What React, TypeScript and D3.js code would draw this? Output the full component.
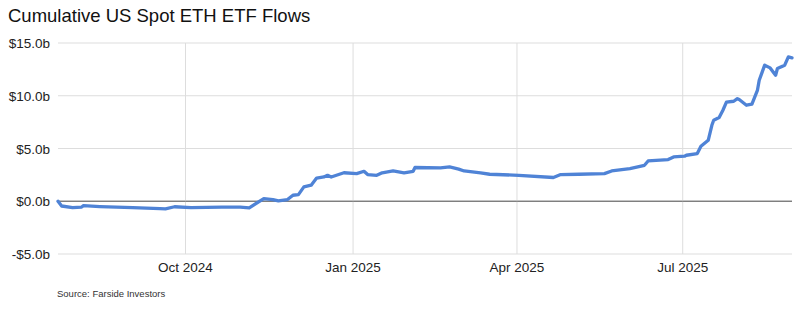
import React from "react";
import * as d3 from "d3";

const title = "Cumulative US Spot ETH ETF Flows";
const source = "Source: Farside Investors";

const dates: string[] = [
  "2024-07-23","2024-07-25","2024-07-31","2024-08-05","2024-08-06","2024-08-15","2024-09-02","2024-09-17","2024-09-20","2024-09-25",
  "2024-10-04","2024-10-21","2024-10-31","2024-11-05","2024-11-13","2024-11-18","2024-11-21","2024-11-26","2024-11-29","2024-12-02",
  "2024-12-05","2024-12-09","2024-12-12","2024-12-16","2024-12-18","2024-12-20","2024-12-27","2025-01-03","2025-01-07","2025-01-09",
  "2025-01-14","2025-01-17","2025-01-23","2025-01-29","2025-02-03","2025-02-04","2025-02-18","2025-02-23","2025-02-28","2025-03-03",
  "2025-03-12","2025-03-17","2025-04-02","2025-04-21","2025-04-25","2025-05-05","2025-05-19","2025-05-23","2025-06-02","2025-06-10",
  "2025-06-12","2025-06-23","2025-06-26","2025-07-02","2025-07-03","2025-07-09","2025-07-11","2025-07-15","2025-07-17","2025-07-18",
  "2025-07-21","2025-07-23","2025-07-25","2025-07-29","2025-07-31","2025-08-01","2025-08-05","2025-08-08","2025-08-11","2025-08-12",
  "2025-08-15","2025-08-18","2025-08-21","2025-08-22","2025-08-26","2025-08-28","2025-08-30"
];

const flows: number[] = [
  0.0,-0.45,-0.6,-0.55,-0.42,-0.5,-0.6,-0.7,-0.72,-0.52,
  -0.6,-0.55,-0.55,-0.62,0.25,0.16,0.03,0.16,0.57,0.63,
  1.36,1.52,2.2,2.3,2.46,2.3,2.7,2.62,2.84,2.53,
  2.46,2.7,2.87,2.7,2.84,3.2,3.16,3.25,3.05,2.87,
  2.68,2.56,2.46,2.25,2.53,2.56,2.62,2.87,3.1,3.41,
  3.82,3.95,4.2,4.27,4.36,4.52,5.21,5.78,7.2,7.68,
  7.93,8.6,9.4,9.48,9.73,9.64,9.1,9.2,10.5,11.47,
  12.9,12.64,11.94,12.58,12.9,13.68,13.6
];

const yTicks: number[] = [-5, 0, 5, 10, 15];
const xTicks: string[] = ["2024-10-01", "2025-01-01", "2025-04-01", "2025-07-01"];
const xTickLabels: string[] = ["Oct 2024", "Jan 2025", "Apr 2025", "Jul 2025"];

const W = 800, H = 309;
const left = 58, right = 792, top = 43, bottom = 254;

export default function App() {
  const parse = d3.utcParse("%Y-%m-%d");
  const data = dates.map((d, i) => ({ date: parse(d) as Date, v: flows[i] }));
  const x = d3.scaleUtc()
    .domain([parse("2024-07-23") as Date, parse("2025-08-30") as Date])
    .range([left, right]);
  const y = d3.scaleLinear().domain([-5, 15]).range([bottom, top]);
  const line = d3.line<{ date: Date; v: number }>()
    .x(d => x(d.date))
    .y(d => y(d.v))
    .curve(d3.curveLinear);
  const fmt = (v: number) => (v < 0 ? "-$" : "$") + Math.abs(v).toFixed(1) + "b";
  const font = "Liberation Sans, Arial, sans-serif";

  return (
    <svg width={W} height={H} style={{ position: "absolute", left: 0, top: 0, background: "#fff" }} fontFamily={font}>
      <rect x={0} y={0} width={W} height={H} fill="#fff" />
      <text x={8} y={22} fontSize={18.5} fill="#111">{title}</text>
      {yTicks.map(t => (
        <g key={t}>
          <line x1={left} x2={right} y1={y(t)} y2={y(t)} stroke={t === 0 ? "#777" : "#ddd"} strokeWidth={1} />
          <text x={50} y={y(t) + 5} textAnchor="end" fontSize={13.5} fill="#222">{fmt(t)}</text>
        </g>
      ))}
      {xTicks.map((t, i) => {
        const xx = x(parse(t) as Date);
        return (
          <g key={t}>
            <line x1={xx} x2={xx} y1={top} y2={bottom} stroke="#ddd" strokeWidth={1} />
            <text x={xx} y={272} textAnchor="middle" fontSize={13.5} fill="#222">{xTickLabels[i]}</text>
          </g>
        );
      })}
      <line x1={left} x2={right} y1={y(0)} y2={y(0)} stroke="#777" strokeWidth={1} />
      <path d={line(data) || ""} fill="none" stroke="#4f83d6" strokeWidth={3.3} strokeLinejoin="round" strokeLinecap="round" />
      <text x={57} y={297} fontSize={9.5} fill="#333">{source}</text>
    </svg>
  );
}
